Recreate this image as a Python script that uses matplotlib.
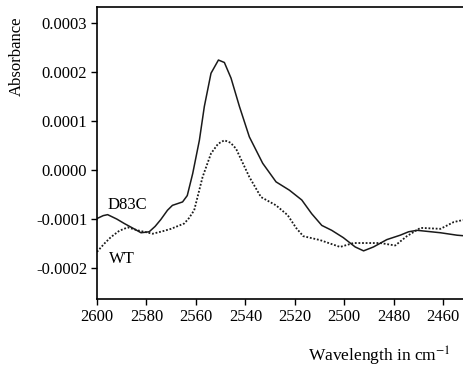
import matplotlib
matplotlib.use("Agg")
import matplotlib.pyplot as plt

plt.rcParams['font.family'] = ['Liberation Serif', 'DejaVu Serif']
plt.rcParams['mathtext.fontset'] = 'stix'

# D83C (solid line)
d83c_x = [2600, 2597.5, 2595.7, 2592, 2589, 2585, 2582.2, 2578.9, 2576.5, 2574.2,
          2571.5, 2569.5, 2565.4, 2563.5, 2561.3, 2558.6, 2556.6, 2553.9, 2550.9,
          2548.5, 2545.8, 2542.4, 2538.4, 2533, 2527.6, 2522.2, 2517.2, 2513.2,
          2509.1, 2505.1, 2500.4, 2495.6, 2492.2, 2488.2, 2482.8, 2477.4, 2474,
          2470.6, 2461.1, 2454.4, 2452]
d83c_y = [-0.000099, -0.000093, -0.000091, -0.000100, -0.000109, -0.00012, -0.000128,
          -0.000126, -0.000115, -0.000101, -0.000082, -0.000072, -0.000065, -0.000052,
          -0.000007, 0.000061, 0.00013, 0.000198, 0.000225, 0.00022, 0.000188,
          0.00013, 0.000068, 0.000014, -0.000024, -0.000041, -0.000061, -0.000089,
          -0.000113, -0.000123, -0.000138, -0.000157, -0.000165, -0.000157, -0.000142,
          -0.000133, -0.000126, -0.000123, -0.000128, -0.000133, -0.000134]

# WT (dotted line)
wt_x = [2600, 2597, 2594.4, 2591, 2587.6, 2583.6, 2577.5, 2573.5, 2570.1, 2564.7,
        2562.8, 2560.7, 2557.3, 2553.9, 2551, 2548.5, 2546, 2543.8, 2538.4, 2533.7,
        2527.6, 2522.9, 2519.5, 2516.6, 2509.8, 2501.7, 2496.3, 2485.5, 2479.4,
        2474.7, 2469.2, 2461.1, 2455.7, 2452]
wt_y = [-0.000167, -0.00015, -0.000137, -0.000124, -0.000117, -0.000123, -0.00013,
        -0.000125, -0.00012, -0.000109, -0.000098, -0.000082, -0.000014, 0.000034,
        0.000054, 0.000061, 0.000056, 0.000044, -0.000014, -0.000055, -0.000072,
        -0.000092, -0.000118, -0.000135, -0.000143, -0.000157, -0.000149, -0.000149,
        -0.000154, -0.000135, -0.000118, -0.00012, -0.000106, -0.000102]

x_ticks = [2600, 2580, 2560, 2540, 2520, 2500, 2480, 2460]
y_ticks = [-0.0002, -0.0001, 0.0, 0.0001, 0.0002, 0.0003]

fig = plt.figure(figsize=(4.63, 3.71), dpi=100)
ax = fig.add_axes([97 / 463, 1 - 299.3 / 371, 366 / 463, 292.6 / 371])

ax.plot(d83c_x, d83c_y, color='#1a1a1a', linewidth=1.1, linestyle='-')
ax.plot(wt_x, wt_y, color='#1a1a1a', linewidth=1.3, linestyle=(0, (1, 1)))

ax.set_xlim(2600, 2452)
ax.set_ylim(-0.000264, 0.000334)
ax.set_xticks(x_ticks)
ax.set_xticklabels([str(t) for t in x_ticks])
ax.set_yticks(y_ticks)
ax.set_yticklabels(['%.4f' % t for t in y_ticks])
ax.tick_params(direction='out', length=4, width=1, labelsize=12, pad=3)
ax.tick_params(axis='x', pad=3)
ax.spines['right'].set_visible(False)
for s in ['left', 'bottom', 'top']:
    ax.spines[s].set_linewidth(1.2)

ax.text(2595.9, -0.000071, 'D83C', fontsize=12, ha='left', va='center')
ax.text(2595.0, -0.000182, 'WT', fontsize=12, ha='left', va='center')

fig.text(17 / 463, 1 - 56 / 371, 'Absorbance', rotation=90, fontsize=12,
         ha='center', va='center')
fig.text(379 / 463, 1 - 356 / 371, 'Wavelength in cm$^{-1}$', fontsize=12.5,
         ha='center', va='center')

fig.savefig('out.png', dpi=100)
